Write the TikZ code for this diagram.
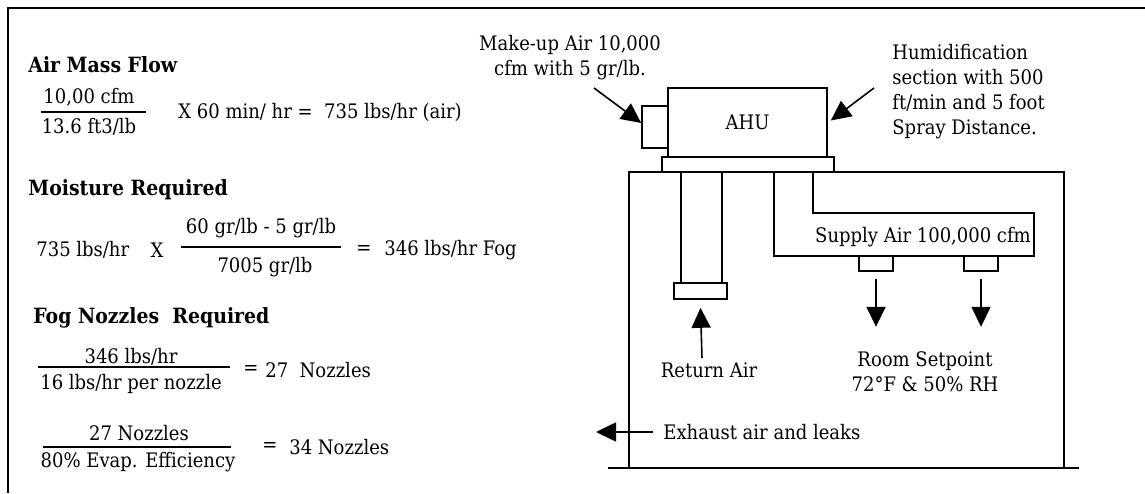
\documentclass[tikz,border=0pt]{standalone}
\usepackage{fontspec}
\setmainfont{DejaVu Serif Condensed}
\usetikzlibrary{positioning,arrows.meta}

\begin{document}
\begin{tikzpicture}[
  x=0.5pt,y=-0.5pt,
  font=\fontsize{10}{12.5}\selectfont,
  txt/.style={inner sep=0pt,anchor=west},
  ctr/.style={inner sep=0pt},
  head/.style={txt,font=\fontsize{10.5}{12.5}\selectfont\bfseries},
  unit/.style={draw,line width=0.8pt,inner sep=0pt},
  duct/.style={line width=0.8pt},
  bar/.style={line width=0.9pt},
  ar/.style={-{Triangle[length=10pt,width=9.5pt]},line width=0.8pt}
]
\useasboundingbox (0,0) rectangle (1145,493);
% frame
\draw[line width=1pt] (8,493) -- (8,8) -- (1145,8);
% air mass flow
\node[head] (hmass) at (28,65) {Air Mass Flow};
\node[ctr] (mnum) at (89,97) {10,00 cfm};
\node[ctr] (mden) at (89,127) {13.6 ft3/lb};
\draw[bar] (41,112) -- (146,112);
\node[txt] (mres) at (178,112) {X 60 min/ hr =\ \ 735 lbs/hr (air)};
% moisture required
\node[head] (hmoist) at (28,190) {Moisture Required};
\node[txt] (wair) at (36,250) {735 lbs/hr};
\node[ctr] (wx) at (157,250) {X};
\node[ctr] (wnum) at (261,228) {60 gr/lb - 5 gr/lb};
\node[ctr] (wden) at (265,267) {7005 gr/lb};
\draw[bar] (181,247) -- (341,247);
\node[ctr] (weq) at (364,250) {=};
\node[txt] (wres) at (384,250) {346 lbs/hr Fog};
% fog nozzles required
\node[head] (hfog) at (33,318) {Fog Nozzles\ \ Required};
\node[ctr] (nnum) at (131,357) {346 lbs/hr};
\node[ctr] (nden) at (131,384) {16 lbs/hr per nozzle};
\draw[bar] (38,367) -- (230,367);
\node[ctr] (neq) at (251,370) {=};
\node[txt] (nres) at (265,370) {27\ \ Nozzles};
\node[ctr] (enum) at (139,433) {27 Nozzles};
\node[ctr] (eden) at (138,462) {80\% Evap. Efficiency};
\draw[bar] (43,447) -- (231,447);
\node[ctr] (eeq) at (270,447) {=};
\node[txt] (eres) at (289,447) {34 Nozzles};
% air handler
\node[unit,minimum width=79.5pt,minimum height=34.5pt] (ahu) at (747.5,122.5) {AHU};
\node[unit,minimum width=13pt,minimum height=21pt] (inlet) at (655,127) {};
\node[unit,minimum width=86pt,minimum height=7.5pt] (base) at (748,164.5) {};
% room
\draw[duct] (629,468) -- (629,172) -- (1064,172) -- (1064,468);
\draw[duct] (608,468) -- (1079,468);
% return duct
\draw[duct] (681,172) -- (681,283);
\draw[duct] (722,172) -- (722,283);
\node[unit,minimum width=26.5pt,minimum height=8pt] (grille) at (700.5,291) {};
% supply duct
\draw[duct] (774,172) -- (774,256) -- (1034,256) -- (1034,213) -- (813,213) -- (813,172);
\node[ctr] (supply) at (923,237) {Supply Air 100,000 cfm};
\node[unit,minimum width=17pt,minimum height=7.5pt] (dif1) at (876,263.5) {};
\node[unit,minimum width=17pt,minimum height=7.5pt] (dif2) at (981,263.5) {};
% labels
\node[ctr,align=center] (mkup) at (570,57.5) {Make-up Air 10,000\\cfm with 5 gr/lb.};
\node[txt,align=left] (humid) at (892,91.5) {Humidification\\section with 500\\ft/min and 5 foot\\Spray Distance.};
\node[ctr] (retlbl) at (709,370) {Return Air};
\node[ctr,align=center] (room) at (925,372) {Room Setpoint\\72°F \& 50\% RH};
\node[txt] (exh) at (663,432) {Exhaust air and leaks};
% flows
\draw[ar] (594,88) -- ([yshift=2pt]inlet.west);
\draw[ar] (874,88) -- ([xshift=1.5pt,yshift=1pt]ahu.east);
\draw[ar] (702,358) -- ([yshift=-4pt]grille.south);
\draw[ar] ([yshift=-3.5pt]dif1.south) -- ++(0,48);
\draw[ar] ([yshift=-3.5pt]dif2.south) -- ++(0,48);
\draw[ar] ([xshift=-5pt]exh.west) -- ++(-57,0);
\end{tikzpicture}
\end{document}
